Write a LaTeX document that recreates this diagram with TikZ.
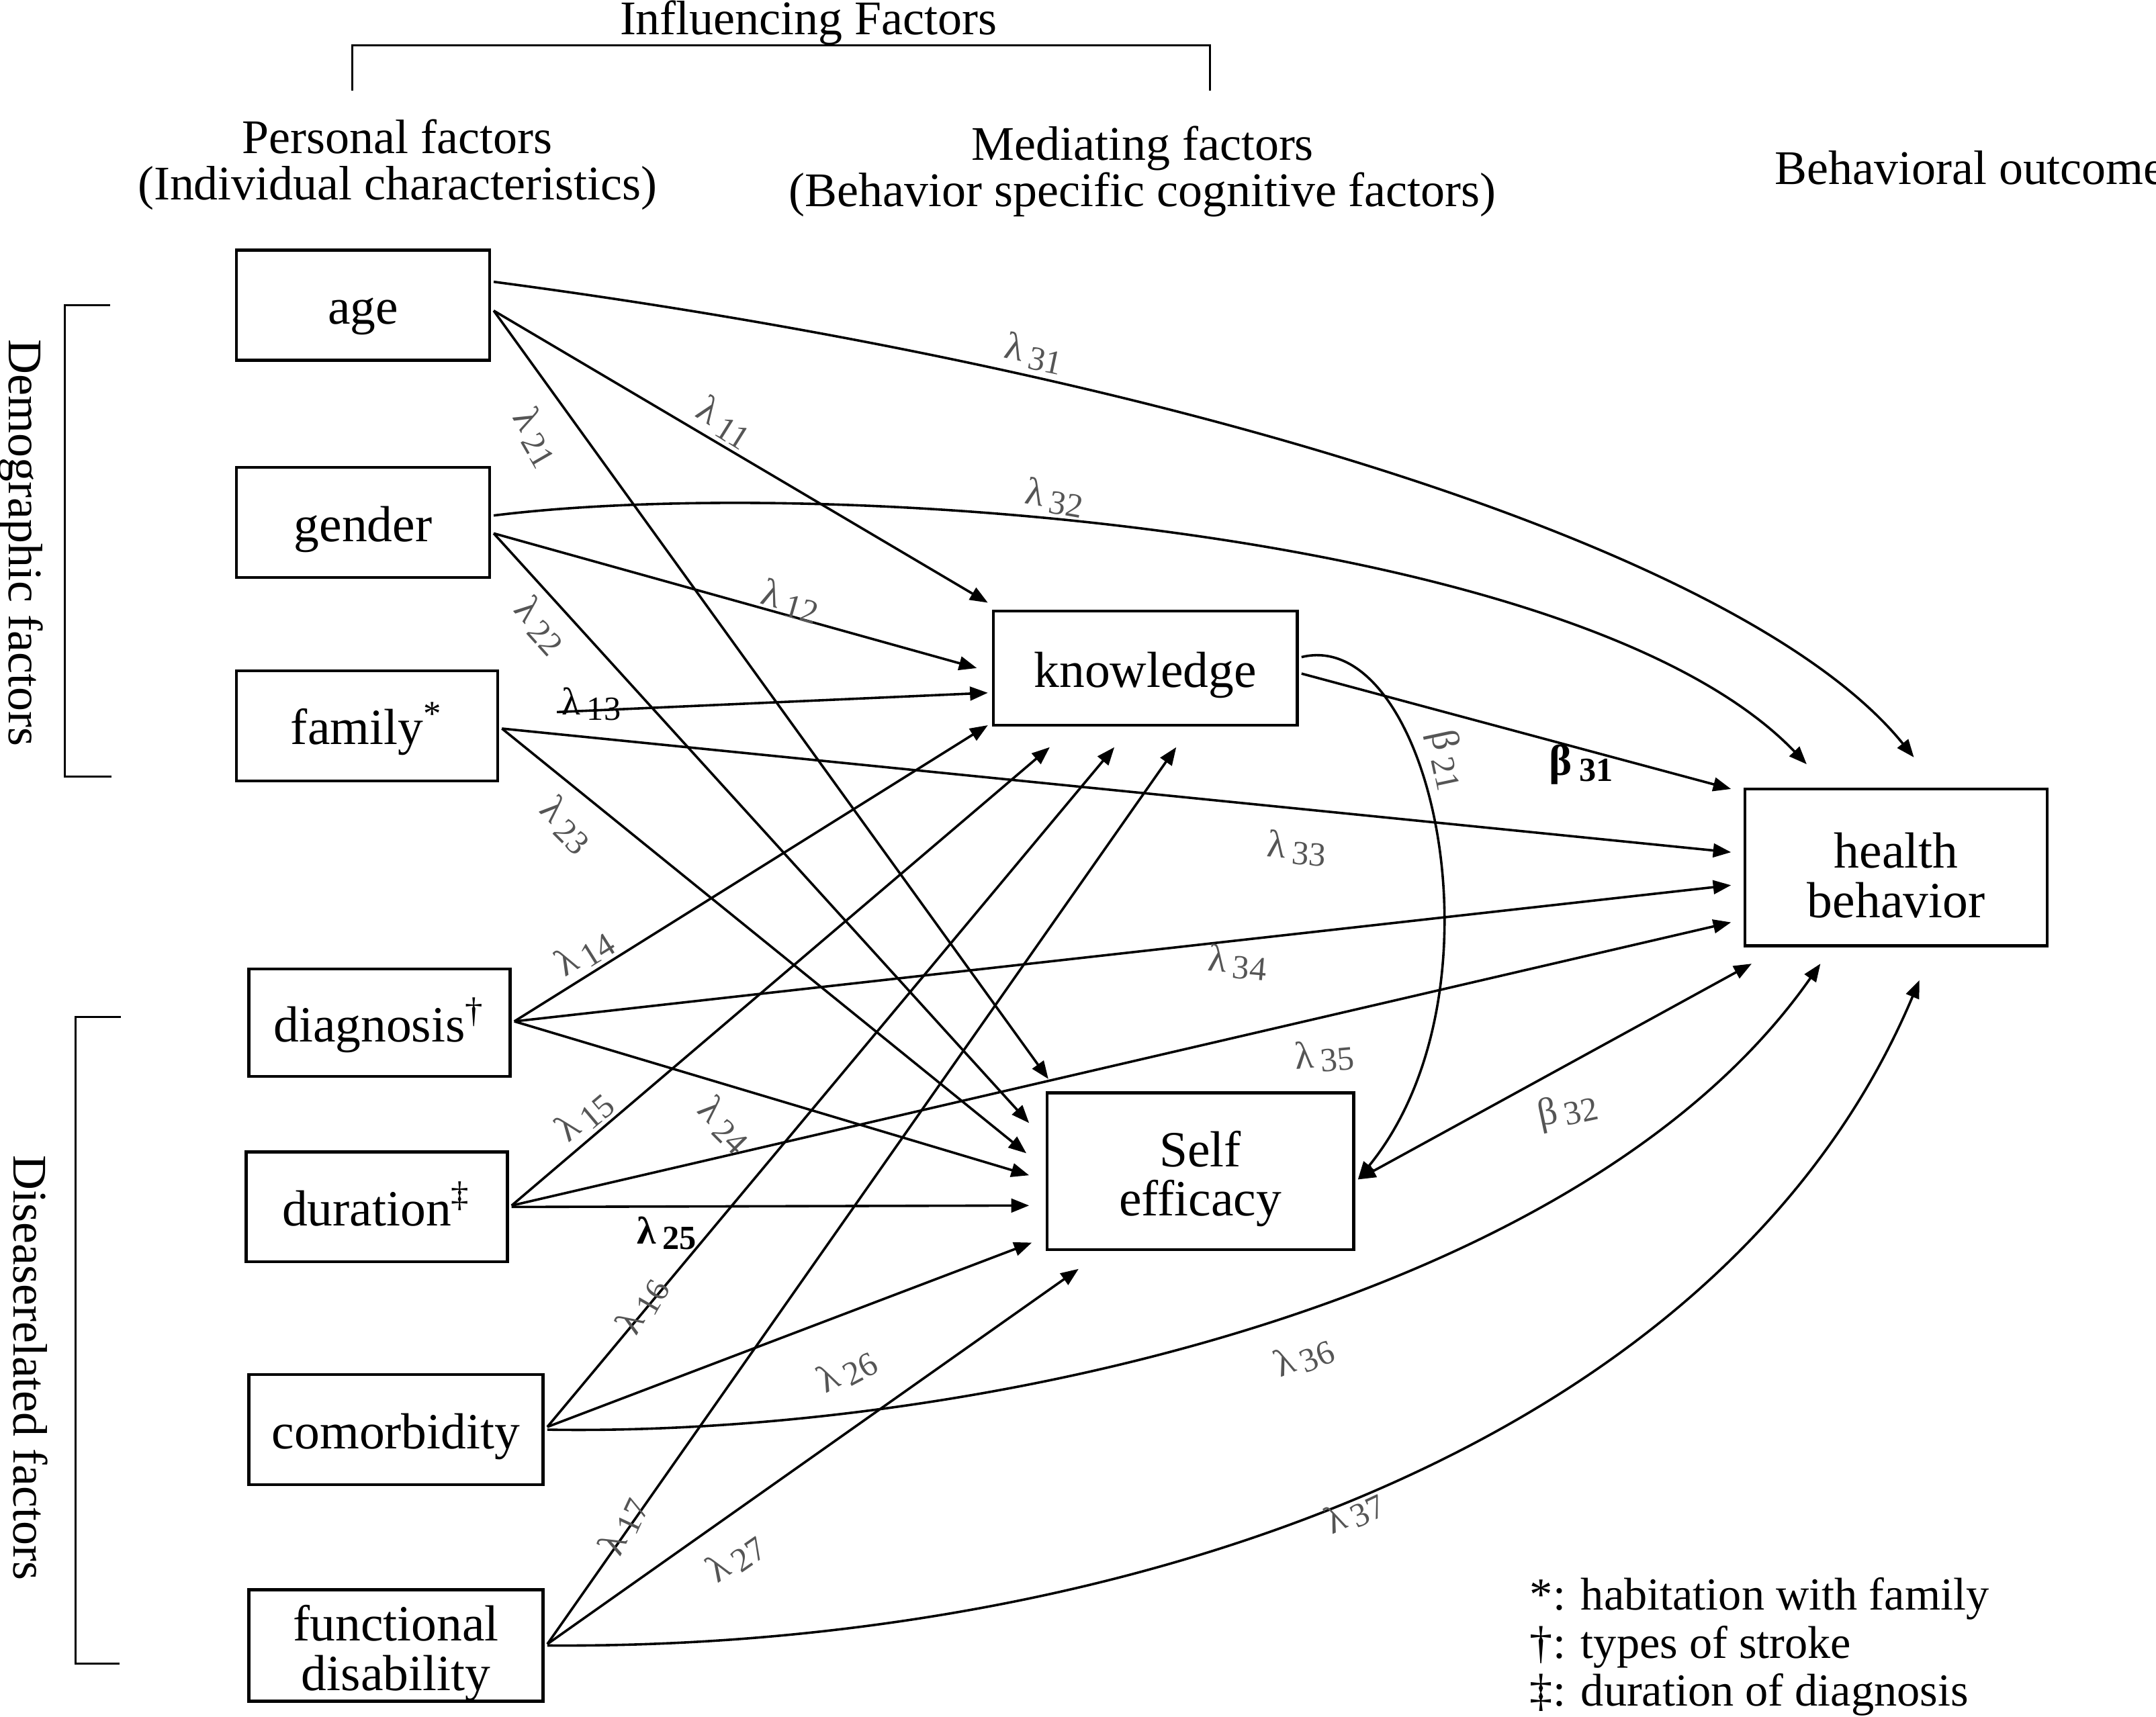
\documentclass[tikz,border=0pt]{standalone}
\usepackage{fontspec}
\setmainfont{Liberation Serif}
\usetikzlibrary{arrows.meta, calc, positioning}
\definecolor{coefgray}{RGB}{85, 85, 85}
\tikzset{
  factor/.style={draw, line width=0.6pt, minimum width=18.4mm, minimum height=8mm, align=center, inner sep=1pt, font=\fontsize{10.5}{10.2}\selectfont},
  oneline/.style={text height=2ex, text depth=0.3ex},
  head/.style={align=center, inner sep=0pt, font=\fontsize{10}{9.6}\selectfont},
  note/.style={anchor=west, inner sep=0pt, font=\fontsize{9.5}{9.5}\selectfont},
  link/.style={-{Triangle[length=1.3mm, width=1mm]}, line width=0.5pt},
  twoway/.style={{Triangle[length=1.3mm, width=1mm]}-{Triangle[length=1.3mm, width=1mm]}, line width=0.5pt},
  coef/.style={text=coefgray, inner sep=0pt, font=\fontsize{8}{8}\selectfont},
}
\newcommand{\lamc}[1]{λ\,\raisebox{-0.3ex}{\fontsize{7}{7}\selectfont #1}}
\newcommand{\betc}[1]{β\,\raisebox{-0.3ex}{\fontsize{7}{7}\selectfont #1}}
\newcommand{\topstrut}{\rule{0pt}{10.6pt}}

\begin{document}
\begin{tikzpicture}[x=0.1mm, y=-0.1mm]
  \useasboundingbox (0,0) rectangle (1568,1249);

  % Headings
  \node[head, anchor=base] (influencing) at (588,25) {Influencing Factors};
  \draw (256,66) -- (256,33) -- (880,33) -- (880,66);
  \node[head] (personal) at (289,120) {Personal factors\\(Individual characteristics)};
  \node[head] (mediating) at (831,125) {Mediating factors\\(Behavior specific cognitive factors)};
  \node[head, anchor=west] (outcome) at (1290,122) {Behavioral outcome};

  % Side brackets
  \draw (80,222) -- (47,222) -- (47,565) -- (81,565);
  \node[head, rotate=-90] (demographic) at (15,395) {Demographic factors};
  \draw (88,740) -- (55,740) -- (55,1210) -- (87,1210);
  \node[head, rotate=-90] (disease) at (22,995) {Diseaserelated factors};

  % Demographic factors
  \node[factor, oneline] (age) at (264,222) {age};
  \node[factor, oneline] (gender) at (264,380) {gender};
  \node[factor, oneline, minimum width=19mm] (family) at (267,528) {family\textsuperscript{*}};

  % Disease related factors
  \node[factor, oneline, minimum width=19mm, minimum height=7.8mm] (diagnosis) at (276,744) {diagnosis\textsuperscript{†}};
  \node[factor, oneline, minimum width=19mm] (duration) at (274,878) {duration\textsuperscript{‡}};
  \node[factor, oneline, minimum width=21.4mm] (comorbidity) at (288,1040) {comorbidity};
  \node[factor, inner ysep=0pt, minimum width=21.4mm, minimum height=8.1mm] (disability) at (288,1197) {\topstrut functional\\disability};

  % Mediating factors
  \node[factor, oneline, minimum width=22.1mm, minimum height=8.3mm] (knowledge) at (833,486) {knowledge};
  \node[factor, minimum width=22.3mm, minimum height=11.4mm] (efficacy) at (873,852) {\topstrut Self\\efficacy};

  % Behavioral outcome
  \node[factor, minimum width=22mm, minimum height=11.4mm] (health) at (1379,631) {\topstrut health\\behavior};

  % age
  \draw[link] ($(age.east)+(2,-17)$) .. controls (850,270) and (1270,400) .. ($(health.north west)+(124,-22)$);
  \draw[link] ($(age.east)+(2,4)$) -- ($(knowledge.north west)+(-3,-5)$);
  \draw[link] ($(age.east)+(2,4)$) -- ($(efficacy.north west)+(2,-9)$);

  % gender
  \draw[link] ($(gender.east)+(2,-5)$) .. controls (600,345) and (1150,385) .. ($(health.north west)+(46,-17)$);
  \draw[link] ($(gender.east)+(2,8)$) -- ($(knowledge.west)+(-11,0)$);
  \draw[link] ($(gender.east)+(2,8)$) -- ($(efficacy.north west)+(-12,23)$);

  % family
  \coordinate (famfree) at (405,518);
  \draw[link] (famfree) -- ($(knowledge.west)+(-3,18)$);
  \draw[link] ($(family.east)+(2,2)$) -- ($(health.north west)+(-9,47)$);
  \draw[link] ($(family.east)+(2,2)$) -- ($(efficacy.north west)+(-14,45)$);

  % diagnosis
  \draw[link] ($(diagnosis.east)+(2,-1)$) -- ($(knowledge.south west)+(-3,-1)$);
  \draw[link] ($(diagnosis.east)+(2,-1)$) -- ($(health.north west)+(-9,71)$);
  \draw[link] ($(diagnosis.east)+(2,-1)$) -- ($(efficacy.north west)+(-12,61)$);

  % duration
  \draw[link] ($(duration.east)+(2,-1)$) -- ($(knowledge.south west)+(42,15)$);
  \draw[link] ($(duration.east)+(2,-1)$) -- ($(health.north west)+(-9,98)$);
  \draw[link] ($(duration.east)+(2,0)$) -- ($(efficacy.north west)+(-12,83)$);

  % comorbidity
  \draw[link] ($(comorbidity.east)+(2,-2)$) -- ($(knowledge.south west)+(89,15)$);
  \draw[link] ($(comorbidity.east)+(2,-2)$) -- ($(efficacy.north west)+(-10,110)$);
  \draw[link] ($(comorbidity.east)+(2,0)$) .. controls (700,1045) and (1150,950) .. ($(health.south west)+(56,12)$);

  % functional disability
  \draw[link] ($(disability.east)+(2,-1)$) -- ($(knowledge.south west)+(134,15)$);
  \draw[link] ($(disability.east)+(2,-1)$) -- ($(efficacy.south west)+(24,13)$);
  \draw[link] ($(disability.east)+(2,0)$) .. controls (800,1200) and (1250,1060) .. ($(health.south west)+(128,24)$);

  % knowledge and self efficacy
  \draw[link] ($(knowledge.east)+(2,4)$) -- ($(health.north west)+(-9,1)$);
  \draw[link] ($(knowledge.east)+(2,-8)$) .. controls (1040,455) and (1100,720) .. ($(efficacy.east)+(2,6)$);
  \draw[twoway] ($(efficacy.east)+(2,6)$) -- ($(health.south west)+(6,12)$);

  % Path coefficients
  \node[coef, rotate=-12] (l31) at (752,257) {\lamc{31}};
  \node[coef, rotate=-32] (l11) at (527,307) {\lamc{11}};
  \node[coef, rotate=-60] (l21) at (390,318) {\lamc{21}};
  \node[coef, rotate=-10] (l32) at (767,362) {\lamc{32}};
  \node[coef, rotate=-16] (l12) at (575,437) {\lamc{12}};
  \node[coef, rotate=-48] (l22) at (393,455) {\lamc{22}};
  \node[coef, text=black] (l13) at (430,512) {\lamc{13}};
  \node[coef, rotate=-45] (l23) at (412,600) {\lamc{23}};
  \node[coef, rotate=-5] (l33) at (943,617) {\lamc{33}};
  \node[coef, rotate=32] (l14) at (425,693) {\lamc{14}};
  \node[coef, rotate=-5] (l34) at (900,700) {\lamc{34}};
  \node[coef, rotate=-45] (l24) at (527,818) {\lamc{24}};
  \node[coef, rotate=40] (l15) at (425,812) {\lamc{15}};
  \node[coef, rotate=5] (l35) at (963,768) {\lamc{35}};
  \node[coef, text=black, font=\bfseries\fontsize{8}{8}\selectfont] (l25) at (485,897) {\lamc{25}};
  \node[coef, rotate=60] (l16) at (467,950) {\lamc{16}};
  \node[coef, rotate=28] (l26) at (616,997) {\lamc{26}};
  \node[coef, rotate=22] (l36) at (948,987) {\lamc{36}};
  \node[coef, rotate=65] (l17) at (453,1110) {\lamc{17}};
  \node[coef, rotate=35] (l27) at (535,1133) {\lamc{27}};
  \node[coef, rotate=25] (l37) at (985,1100) {\lamc{37}};
  \node[coef, rotate=-78] (b21) at (1052,553) {\betc{21}};
  \node[coef, text=black, font=\bfseries\fontsize{9}{9}\selectfont] (b31) at (1150,556) {\betc{31}};
  \node[coef, rotate=12] (b32) at (1140,808) {\betc{32}};

  % Notes
  \node[note] (note1) at (1112,1163) {*: habitation with family};
  \node[note] (note2) at (1112,1198) {†: types of stroke};
  \node[note] (note3) at (1112,1233) {‡: duration of diagnosis};
\end{tikzpicture}
\end{document}
